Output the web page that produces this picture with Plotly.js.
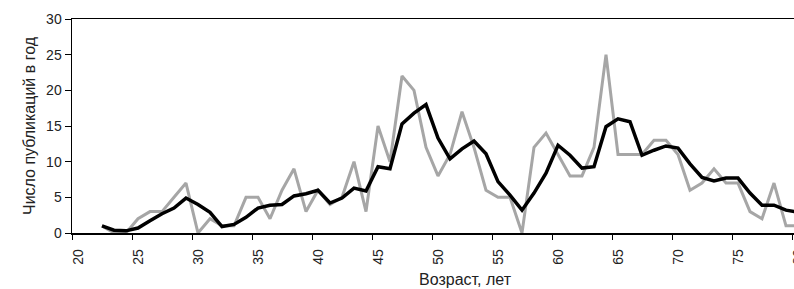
<!DOCTYPE html>
<html><head><meta charset="utf-8">
<script src="https://cdn.plot.ly/plotly-3.0.1.min.js"></script>
<style>html,body{margin:0;padding:0;overflow:hidden;background:#fff}#chart{width:870px;height:289px}</style>
</head><body><div id="chart"></div><script>
const ages = [22,23,24,25,26,27,28,29,30,31,32,33,34,35,36,37,38,39,40,41,42,43,44,45,46,47,48,49,50,51,52,53,54,55,56,57,58,59,60,61,62,63,64,65,66,67,68,69,70,71,72,73,74,75,76,77,78,79,80];
const publicationsPerYear = [1,0,0,2,3,3,5,7,0,2,1,1,5,5,2,6,9,3,6,4,5,10,3,15,10,22,20,12,8,11,17,12,6,5,5,0,12,14,11,8,8,12,25,11,11,11,13,13,11,6,7,9,7,7,3,2,7,1,1];
const smoothedPublications = [1.0,0.4,0.3,0.7,1.7,2.7,3.5,4.9,4.0,2.9,0.9,1.2,2.2,3.5,3.9,4.0,5.2,5.5,6.0,4.2,4.9,6.3,5.9,9.3,9.0,15.3,16.8,18.0,13.3,10.4,11.8,12.9,11.1,7.2,5.3,3.2,5.6,8.4,12.3,10.9,9.1,9.3,14.9,16.0,15.6,10.9,11.6,12.2,11.9,9.7,7.8,7.3,7.7,7.7,5.6,3.9,3.9,3.2,2.9];
const xTickLabels = ['20','25','30','35','40','45','50','55','60','65','70','75','80','85'];
const yTickValues = [0,5,10,15,20,25,30];

const baseFont = {family: '"Liberation Sans", Arial, sans-serif', color: '#222'};
const tickFont = Object.assign({}, baseFont, {size: 14});
const titleFont = Object.assign({}, baseFont, {size: 16});
const xTickPositions = xTickLabels.map(a => Number(a) - 0.5);

const traces = [
  {x: ages, y: publicationsPerYear, type: 'scatter', mode: 'lines',
   line: {color: '#a6a6a6', width: 3}, hoverinfo: 'skip'},
  {x: ages, y: smoothedPublications, type: 'scatter', mode: 'lines',
   line: {color: '#000000', width: 3.5}, hoverinfo: 'skip'}
];

const layout = {
  width: 870, height: 289,
  margin: {l: 72, r: 12, t: 19, b: 56},
  paper_bgcolor: '#ffffff', plot_bgcolor: '#ffffff',
  showlegend: false,
  font: tickFont,
  xaxis: {
    range: [19.5, 85], tickmode: 'array', tickvals: xTickPositions, ticktext: xTickLabels,
    tickangle: -90, ticklabelshift: 6, ticklabelstandoff: 4, ticks: 'outside', ticklen: 5, tickwidth: 1, tickcolor: '#000',
    showline: true, linecolor: '#000', linewidth: 1.5, mirror: true, showgrid: false, zeroline: false,
    tickfont: tickFont,
    title: {text: 'Возраст, лет', font: titleFont, standoff: 10}
  },
  yaxis: {
    range: [0, 30], tickmode: 'array', tickvals: yTickValues,
    ticks: 'outside', ticklen: 6, tickwidth: 1, tickcolor: '#000',
    showline: true, linecolor: '#000', linewidth: 1.5, mirror: true, showgrid: false, zeroline: false,
    tickfont: tickFont,
    title: {text: 'Число публикаций в год', font: titleFont, standoff: 6}
  }
};

Plotly.newPlot('chart', traces, layout, {staticPlot: true, displayModeBar: false});
</script></body></html>
